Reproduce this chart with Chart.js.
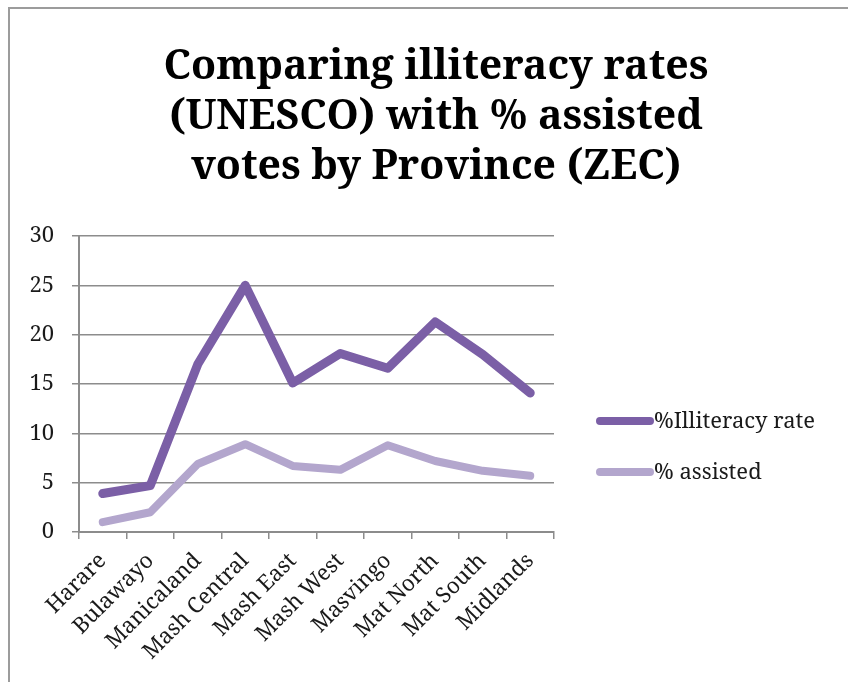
<!DOCTYPE html>
<html>
<head>
<meta charset="utf-8">
<script src="https://cdn.jsdelivr.net/npm/chart.js@4/dist/chart.umd.min.js"></script>
<style>
html,body{margin:0;padding:0;background:#fff;}
#wrap{position:absolute;left:0;top:0;width:848px;height:682px;}
#frame{position:absolute;left:8px;top:7px;width:840px;height:675px;border-top:2px solid #9c9c9c;border-left:2px solid #9c9c9c;pointer-events:none;}
</style>
</head>
<body>
<div id="wrap"><canvas id="c" width="848" height="682"></canvas></div>
<div id="frame"></div>
<script>
const categories = ["Harare","Bulawayo","Manicaland","Mash Central","Mash East","Mash West","Masvingo","Mat North","Mat South","Midlands"];
const illiteracyRate = [3.9, 4.7, 17.0, 25.0, 15.1, 18.1, 16.6, 21.3, 18.0, 14.1];
const assistedVotes = [1.0, 2.0, 6.9, 8.9, 6.7, 6.3, 8.8, 7.2, 6.2, 5.7];
const seriesNames = ["%Illiteracy rate", "% assisted"];
const yTicks = [0, 5, 10, 15, 20, 25, 30];
const titleLines = ["Comparing illiteracy rates", "(UNESCO) with % assisted", "votes by Province (ZEC)"];

const darkColor = "#7b5fa6";
const lightColor = "#b3a6cd";
const serif = "'Noto Serif', 'Liberation Serif', serif";

const legendPlugin = {
  id: 'sideLegend',
  afterDraw(chart) {
    const ctx = chart.ctx;
    const ys = [421, 472];
    ctx.save();
    chart.data.datasets.forEach((ds, i) => {
      const y = ys[i];
      ctx.strokeStyle = ds.borderColor;
      ctx.lineWidth = 8;
      ctx.lineCap = 'round';
      ctx.beginPath();
      ctx.moveTo(600, y);
      ctx.lineTo(650, y);
      ctx.stroke();
      ctx.fillStyle = '#1a1a1a';
      ctx.font = "22px " + serif;
      ctx.textBaseline = 'middle';
      ctx.textAlign = 'left';
      ctx.fillText(ds.label, 654, y + 1);
    });
    ctx.restore();
  }
};

new Chart(document.getElementById('c'), {
  type: 'line',
  data: {
    labels: categories,
    datasets: [
      { label: seriesNames[0], data: illiteracyRate, borderColor: darkColor, backgroundColor: darkColor, borderWidth: 9, pointRadius: 0, tension: 0, borderCapStyle: 'round', borderJoinStyle: 'round' },
      { label: seriesNames[1], data: assistedVotes, borderColor: lightColor, backgroundColor: lightColor, borderWidth: 8, pointRadius: 0, tension: 0, borderCapStyle: 'round', borderJoinStyle: 'round' }
    ]
  },
  options: {
    responsive: false,
    animation: false,
    devicePixelRatio: 1,
    layout: { padding: { top: 0, left: 24, right: 0, bottom: 0 } },
    plugins: {
      legend: { display: false },
      tooltip: { enabled: false },
      title: {
        display: true,
        text: titleLines,
        color: '#000',
        font: { family: serif, size: 41, weight: 'bold', lineHeight: 1.22 },
        padding: { top: 42, bottom: 44 }
      }
    },
    scales: {
      x: {
        offset: true,
        grid: { display: true, offset: true, drawOnChartArea: false, color: '#8c8c8c', lineWidth: 1.5, tickLength: 7 },
        border: { color: '#8c8c8c', width: 2 },
        ticks: { color: '#1a1a1a', font: { family: serif, size: 22 }, minRotation: 45, maxRotation: 45, autoSkip: false, padding: 9 },
        afterFit(s) { s.height = 150; }
      },
      y: {
        min: 0, max: 30,
        afterBuildTicks(s) { s.ticks = yTicks.map(v => ({ value: v })); },
        grid: { color: '#8c8c8c', lineWidth: 1.5, tickLength: 7 },
        border: { color: '#8c8c8c', width: 2 },
        ticks: { color: '#1a1a1a', font: { family: serif, size: 22 }, padding: 18 },
        afterFit(s) { s.width = 55; }
      },
      spacer: {
        type: 'linear',
        position: 'right',
        display: true,
        grid: { display: false, drawOnChartArea: false },
        border: { display: false },
        ticks: { display: false },
        afterFit(s) { s.width = 294; }
      }
    }
  },
  plugins: [legendPlugin]
});
</script>
</body>
</html>
